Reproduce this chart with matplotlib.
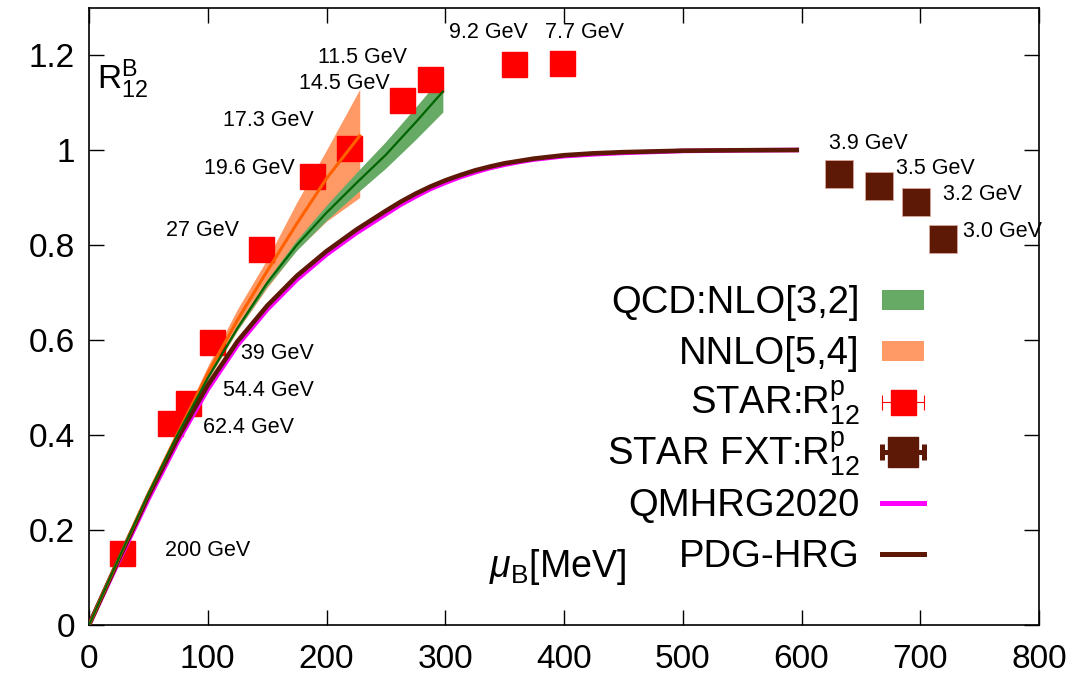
"""R12 baryon ratio vs mu_B: QCD Pade bands, HRG curves and STAR data."""

import numpy as np
import matplotlib
matplotlib.use('Agg')
import matplotlib.pyplot as plt
from matplotlib.lines import Line2D
from matplotlib.patches import Rectangle

plt.rcParams['font.family'] = ['Liberation Sans', 'DejaVu Sans']
plt.rcParams['mathtext.fontset'] = 'custom'
plt.rcParams['mathtext.rm'] = 'Liberation Sans'
plt.rcParams['mathtext.it'] = 'Liberation Sans:italic'

# HRG curves (mu_B in MeV)
mu_hrg = [0, 25, 50, 75, 100, 125, 150, 175, 200, 225, 250, 262.5, 275, 287.5, 300, 312.5, 325,
          337.5, 350, 362.5, 375, 400, 425, 450, 500, 550, 596]
r_pdg = [0, 0.138, 0.272, 0.395, 0.505, 0.597, 0.672, 0.735, 0.787, 0.832, 0.872, 0.891, 0.908,
         0.923, 0.936, 0.947, 0.957, 0.965, 0.972, 0.977, 0.982, 0.989, 0.993, 0.9955, 0.9985,
         0.9995, 1.0]
r_qm = [0, 0.134, 0.265, 0.387, 0.496, 0.589, 0.664, 0.727, 0.780, 0.825, 0.865, 0.885, 0.902,
        0.918, 0.931, 0.943, 0.953, 0.962, 0.969, 0.975, 0.980, 0.987, 0.991, 0.994, 0.998,
        0.9993, 1.0]

# QCD NLO[3,2]
mu_nlo = [0, 25, 50, 75, 100, 125, 150, 175, 200, 225, 250, 275, 298]
r_nlo = [0, 0.14, 0.276, 0.403, 0.52, 0.625, 0.72, 0.80, 0.868, 0.93, 0.99, 1.058, 1.123]
nlo_lo = [0, 0.14, 0.276, 0.402, 0.518, 0.621, 0.713, 0.789, 0.852, 0.908, 0.962, 1.022, 1.08]
nlo_hi = [0, 0.14, 0.276, 0.404, 0.522, 0.629, 0.727, 0.811, 0.884, 0.952, 1.018, 1.09, 1.158]

# NNLO[5,4]
mu_nnlo = [0, 25, 50, 75, 100, 125, 150, 175, 200, 228]
r_nnlo = [0, 0.14, 0.277, 0.405, 0.53, 0.642, 0.745, 0.845, 0.94, 1.03]
nnlo_lo = [0, 0.139, 0.274, 0.398, 0.515, 0.62, 0.71, 0.79, 0.85, 0.90]
nnlo_hi = [0, 0.141, 0.28, 0.412, 0.545, 0.665, 0.77, 0.89, 1.0, 1.128]

# STAR collider data
star_mu = [27.8, 68.2, 83.4, 103.6, 144.8, 187.8, 219, 263.6, 287, 358, 398]
star_r = [0.152, 0.425, 0.467, 0.596, 0.791, 0.945, 1.004, 1.105, 1.149, 1.181, 1.183]
star_lbl = ['200 GeV', '62.4 GeV', '54.4 GeV', '39 GeV', '27 GeV', '19.6 GeV', '17.3 GeV',
            '14.5 GeV', '11.5 GeV', '9.2 GeV', '7.7 GeV']
star_lbl_x = [64, 96, 112.8, 128, 64.8, 96.8, 112.8, 176.8, 192.8, 303, 384]
star_lbl_y = [0.156, 0.415, 0.493, 0.571, 0.83, 0.96, 1.063, 1.141, 1.194, 1.248, 1.248]

# STAR fixed target data
fxt_mu = [631.6, 665, 696, 719]
fxt_r = [0.949, 0.924, 0.891, 0.813]
fxt_lbl = ['3.9 GeV', '3.5 GeV', '3.2 GeV', '3.0 GeV']
fxt_lbl_x = [623, 680, 719, 736]
fxt_lbl_y = [1.013, 0.96, 0.907, 0.829]

leg_labels = ['QCD:NLO[3,2]', 'NNLO[5,4]', r'STAR:R$^{\rm p}_{12}$', r'STAR FXT:R$^{\rm p}_{12}$',
              'QMHRG2020', 'PDG-HRG']

RED = '#ff0000'
BROWN = '#5e1806'
MAGENTA = '#ff00ff'
GBAND = '#66aa66'
GLINE = '#006400'
OBAND = '#ff9966'
OLINE = '#ff6000'

W, H = 1078, 688
AX_L, AX_R, AX_T, AX_B = 89, 1039, 7.5, 625


def px(x, y):
    # image pixel -> axes fraction
    return (x - AX_L) / (AX_R - AX_L), (AX_B - y) / (AX_B - AX_T)


fig = plt.figure(figsize=(W / 100, H / 100), dpi=100)
ax = fig.add_axes([AX_L / W, 1 - AX_B / H, (AX_R - AX_L) / W, (AX_B - AX_T) / H])

# bands
ax.fill_between(mu_nnlo, nnlo_lo, nnlo_hi, color=OBAND, lw=0, zorder=1)
ax.fill_between(mu_nlo, nlo_lo, nlo_hi, color=GBAND, lw=0, zorder=2)

# data
ax.plot(star_mu, star_r, 's', color=RED, ms=18, zorder=3)
ax.plot(fxt_mu, fxt_r, 's', color=BROWN, ms=20.5, mec='#d9a89a', mew=0.6, zorder=3)

# lines
ax.plot(mu_hrg, r_qm, color=MAGENTA, lw=3.3, zorder=4)
ax.plot(mu_hrg, r_pdg, color=BROWN, lw=3.3, zorder=5)
ax.plot(mu_nnlo, r_nnlo, color=OLINE, lw=2.2, zorder=6)
ax.plot(mu_nlo, r_nlo, color=GLINE, lw=1.6, zorder=7)

for t, x, y in zip(star_lbl, star_lbl_x, star_lbl_y):
    ax.text(x, y, t, fontsize=15.5, ha='left', va='center')
for t, x, y in zip(fxt_lbl, fxt_lbl_x, fxt_lbl_y):
    ax.text(x, y, t, fontsize=15.5, ha='left', va='center', clip_on=False)

ax.text(6.7, 1.15, r'R$^{\rm B}_{12}$', fontsize=24, ha='left', va='center')
ax.text(*px(489, 577), r'$\mu_{\rm B}$[MeV]', transform=ax.transAxes, fontsize=27,
        ha='left', va='baseline')

ax.set_xlim(0, 800)
ax.set_ylim(0, 1.3)
ax.set_xticks(np.arange(0, 801, 100))
ax.set_yticks([0, 0.2, 0.4, 0.6, 0.8, 1, 1.2])
ax.set_yticklabels(['0', '0.2', '0.4', '0.6', '0.8', '1', '1.2'])
ax.tick_params(direction='in', length=11, width=1, top=True, right=True, labelsize=24, pad=10)
ax.tick_params(axis='x', pad=14)
for s in ax.spines.values():
    s.set_linewidth(1.2)

# key, gnuplot style: text right-aligned, sample on the right
x0, x1 = 882, 924
tr = ax.transAxes
for i, lab in enumerate(leg_labels):
    yc = 300 + 50.8 * i
    ax.text(*px(860, yc + 13), lab, transform=tr, fontsize=27.5, ha='right', va='baseline')
    if i < 2:
        bx, by = px(x0, yc + 10)
        ax.add_patch(Rectangle((bx, by), (x1 - x0) / 950, 20 / 617.5, transform=tr,
                               color=[GBAND, OBAND][i], lw=0))
    elif i < 4:
        c = [RED, BROWN][i - 2]
        lw, ms, cap = [(0.8, 18, 10.8), (3.6, 21, 11.5)][i - 2]
        xa, ya = px(x0, yc)
        xb, _ = px(x1, yc)
        ax.add_line(Line2D([xa, xb], [ya, ya], color=c, lw=lw, transform=tr))
        ax.add_line(Line2D([xa, xb], [ya, ya], ls='none', marker='|', ms=cap, mew=lw,
                           color=c, transform=tr))
        ax.add_line(Line2D([(xa + xb) / 2], [ya], ls='none', marker='s', ms=ms, color=c,
                           transform=tr))
    else:
        c = [MAGENTA, BROWN][i - 4]
        xa, ya = px(x0, yc)
        xb, _ = px(x1, yc)
        ax.add_line(Line2D([xa, xb], [ya, ya], color=c, lw=3.6, transform=tr))

fig.savefig('out.png', dpi=100)
